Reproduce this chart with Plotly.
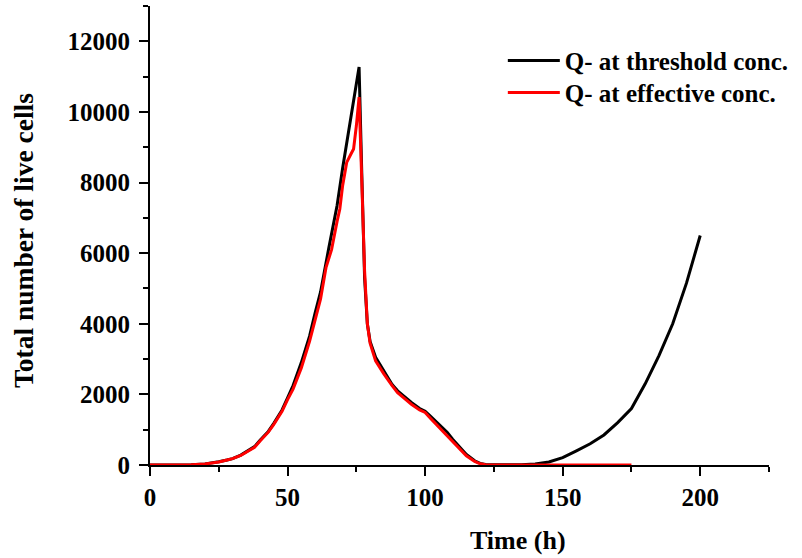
import plotly.graph_objects as go

# Black: Q- at threshold conc.
t_thr = [0, 5, 10, 15, 20, 22, 25, 28, 30, 33, 35, 38, 40, 43, 45, 48, 50, 52, 55, 58,
         60, 62, 65, 68, 70, 72, 74, 76, 77, 78, 79, 80, 82, 85, 88, 90, 93, 95, 98, 100,
         102, 105, 108, 110, 112, 115, 118, 120, 122, 125, 130, 135, 140, 145, 150, 155,
         160, 165, 170, 175, 180, 185, 190, 195, 200]
v_thr = [0, 2, 5, 10, 30, 50, 90, 140, 180, 280, 370, 520, 700, 950, 1180, 1560, 1900, 2250, 2900, 3650,
         4300, 4900, 6150, 7350, 8400, 9350, 10300, 11270, 8200, 5300, 4000, 3500, 3050, 2650, 2280, 2100, 1900, 1770, 1600, 1520,
         1380, 1150, 930, 730, 550, 300, 120, 45, 12, 5, 5, 10, 30, 85, 210, 400,
         600, 850, 1200, 1600, 2300, 3100, 4000, 5150, 6500]

# Red: Q- at effective conc.
t_eff = [0, 5, 10, 15, 20, 22, 25, 28, 30, 33, 35, 38, 40, 43, 45, 48, 50, 52, 55, 58,
         60, 62, 64, 66, 68, 69, 70, 71.5, 73, 74, 75, 76, 77, 78, 79, 80, 82, 85, 88, 90,
         93, 95, 98, 100, 102, 105, 108, 110, 112, 115, 118, 120, 122, 125, 130, 150, 175]
v_eff = [0, 2, 5, 10, 30, 45, 85, 140, 180, 270, 360, 500, 680, 930, 1150, 1520, 1850, 2150, 2750, 3500,
         4100, 4700, 5600, 6100, 6900, 7250, 7900, 8570, 8800, 8950, 9600, 10420, 8000, 5500, 4000, 3450, 2950, 2580, 2250, 2050,
         1850, 1720, 1560, 1490, 1320, 1080, 850, 660, 500, 260, 100, 35, 10, 3, 0, 0, 0]

FONT = "Liberation Serif"

fig = go.Figure()
fig.add_trace(go.Scatter(x=t_thr, y=v_thr, mode="lines", name="Q- at threshold conc.",
                         line=dict(color="black", width=3), legend="legend"))
fig.add_trace(go.Scatter(x=t_eff, y=v_eff, mode="lines", name="Q- at effective conc.",
                         line=dict(color="red", width=3), legend="legend2"))

axis_common = dict(showline=True, linecolor="black", linewidth=2, ticks="outside",
                   tickcolor="black", tickwidth=2, ticklen=9, showgrid=False, zeroline=False,
                   layer="below traces", tickformat="d",
                   tickfont=dict(family=FONT, size=25, color="black", weight="bold"))

fig.update_xaxes(range=[0, 225], dtick=50, tick0=0,
                 minor=dict(ticks="outside", ticklen=5, dtick=25, tickcolor="black", tickwidth=2),
                 **axis_common)
fig.update_yaxes(range=[0, 13000], dtick=2000, tick0=0, ticklabelstandoff=4,
                 minor=dict(ticks="outside", ticklen=5, dtick=1000, tickcolor="black", tickwidth=2),
                 **axis_common)

fig.add_annotation(text="Time (h)", xref="paper", yref="paper", x=(518 - 150) / 619, y=-(540 - 465) / 459,
                   showarrow=False, xanchor="center", yanchor="middle",
                   font=dict(family=FONT, size=26, color="black", weight="bold"))
fig.add_annotation(text="Total number of live cells", xref="paper", yref="paper",
                   x=-(150 - 23) / 619, y=(465 - 241) / 459, textangle=-90,
                   showarrow=False, xanchor="center", yanchor="middle",
                   font=dict(family=FONT, size=27.5, color="black", weight="bold"))

leg_font = dict(family=FONT, size=25, color="black", weight="bold")
fig.update_layout(
    width=802, height=558,
    margin=dict(l=150, r=33, t=6, b=93),
    plot_bgcolor="white", paper_bgcolor="white",
    showlegend=True,
    legend=dict(x=0.57, y=0.931, xanchor="left", yanchor="top", bgcolor="rgba(0,0,0,0)",
                font=leg_font, itemwidth=52),
    legend2=dict(x=0.57, y=0.861, xanchor="left", yanchor="top", bgcolor="rgba(0,0,0,0)",
                 font=leg_font, itemwidth=52),
)

fig.write_html("out.html", config={"displayModeBar": False},
               post_script="document.body.style.margin='0';")
